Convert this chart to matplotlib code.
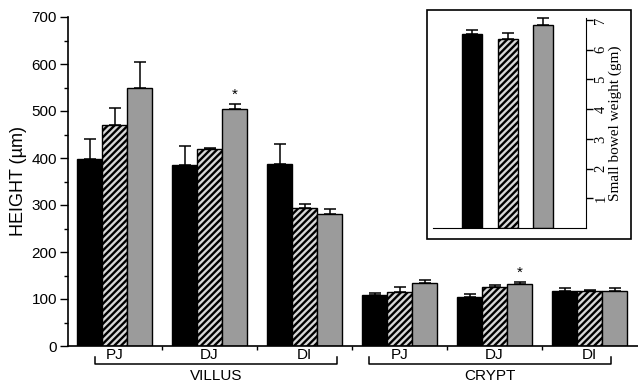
import numpy as np
import matplotlib
matplotlib.use("Agg")
import matplotlib.pyplot as plt
from matplotlib.patches import Rectangle

plt.rcParams['font.family'] = ['Liberation Sans', 'DejaVu Sans']
plt.rcParams['hatch.linewidth'] = 1.7

# main panel: villus and crypt height (um), 3 groups each
sites = ['PJ', 'DJ', 'DI', 'PJ', 'DJ', 'DI']
sections = ['VILLUS', 'CRYPT']
black_h = [397, 386, 388, 108, 105, 116]
black_err = [43, 40, 42, 4, 5, 8]
hatch_h = [471, 419, 294, 115, 125, 118]
hatch_err = [36, 2, 8, 11, 4, 2]
gray_h = [550, 504, 281, 134, 131, 118]
gray_err = [54, 11, 11, 7, 5, 5]
stars = [(1, 2), (4, 2)]   # (group, bar) marked *

# inset: small bowel weight (gm)
w_vals = [6.52, 6.37, 6.82]
w_err = [0.15, 0.18, 0.25]

colors = ['black', '#d8d8d8', '#9b9b9b']
hatches = [None, '/////', None]

fig = plt.figure(figsize=(6.38, 3.87), dpi=100)
W, H = 638.0, 387.0

ax = fig.add_axes([68 / W, 1 - 346 / H, 570 / W, 329 / H])
bw = 0.263
x = np.arange(len(sites))
series = [(black_h, black_err), (hatch_h, hatch_err), (gray_h, gray_err)]
for j, (h, e) in enumerate(series):
    xs = x + (j - 1) * bw
    ax.bar(xs, h, bw, color=colors[j], edgecolor='black', linewidth=1.0,
           hatch=hatches[j], zorder=2)
    ax.errorbar(xs, h, yerr=[np.zeros(len(h)), e], fmt='none', ecolor='black',
                elinewidth=1.1, capsize=4.5, capthick=1.1, zorder=1)

for g, b in stars:
    hs = series[b]
    ax.text(x[g] + (b - 1) * bw, hs[0][g] + hs[1][g] + 4, '*', ha='center',
            va='bottom', fontsize=11)

ax.set_xlim(-0.49, 5.51)
ax.set_ylim(0, 700)
ax.set_yticks(np.arange(0, 701, 100))
ax.set_yticks(np.arange(50, 700, 100), minor=True)
ax.set_xticks(x[:-1] + 0.5)
ax.set_xticklabels([])
ax.tick_params(axis='x', length=3, width=1)
ax.tick_params(axis='y', which='major', length=6, width=1, labelsize=11, pad=2)
ax.tick_params(axis='y', which='minor', length=3, width=1)
ax.spines['top'].set_visible(False)
ax.spines['right'].set_visible(False)
ax.spines['left'].set_linewidth(1.2)
ax.spines['bottom'].set_linewidth(1.2)
ax.set_ylabel('HEIGHT (µm)', fontsize=13, labelpad=3)

for i, s in enumerate(sites):
    ax.text(x[i], -20, s, ha='center', va='center', fontsize=11)

# brackets under groups
for k, (name, x0, x1) in enumerate([('VILLUS', -0.205, 2.34), ('CRYPT', 2.68, 5.23)]):
    ax.plot([x0, x0, x1, x1], [-24, -38, -38, -24], color='black', lw=1.1,
            clip_on=False)
    ax.text((x0 + x1) / 2, -64, name, ha='center', va='center', fontsize=11)

# inset box
fig.patches.append(Rectangle((427 / W, 1 - 239 / H), 204 / W, 229 / H,
                             transform=fig.transFigure, fill=False,
                             edgecolor='black', linewidth=1.2))

ax2 = fig.add_axes([433 / W, 1 - 228 / H, 153 / W, 210 / H])
xi = np.arange(3)
for j in range(3):
    ax2.bar(xi[j], w_vals[j], 0.56, color=colors[j], edgecolor='black',
            linewidth=1.0, hatch=hatches[j], zorder=2)
ax2.errorbar(xi, w_vals, yerr=[np.zeros(3), w_err], fmt='none', ecolor='black',
             elinewidth=1.1, capsize=4, capthick=1.1, zorder=1, clip_on=False)
ax2.set_xlim(-1.11, 3.2)
ax2.set_ylim(0, 7.07)
ax2.set_xticks([])
ax2.set_yticks(np.arange(1, 8))
ax2.yaxis.tick_right()
ax2.yaxis.set_label_position('right')
ax2.spines['top'].set_visible(False)
ax2.spines['left'].set_visible(False)
ax2.tick_params(axis='y', length=5, width=1, pad=1, labelsize=10.5,
                labelrotation=90, labelfontfamily='Liberation Serif')
for lab in ax2.get_yticklabels():
    lab.set_va('center')
ax2.set_ylabel('Small bowel weight (gm)', fontsize=11,
               family='Liberation Serif', rotation=90, labelpad=1)

fig.savefig('out.png', dpi=100)
